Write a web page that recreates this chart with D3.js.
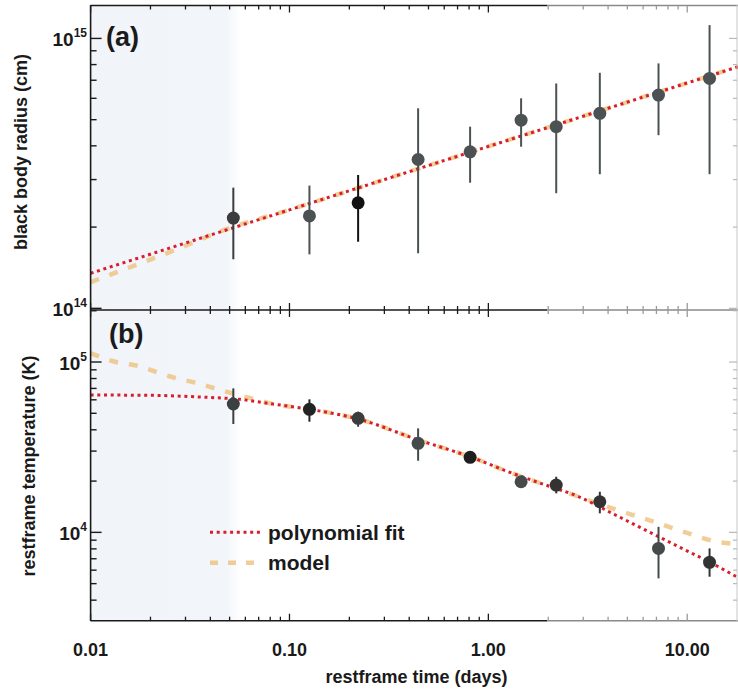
<!DOCTYPE html>
<html><head><meta charset="utf-8">
<script src="https://cdn.jsdelivr.net/npm/d3@7"></script>
<style>body{margin:0;background:#fff}svg{display:block}text{font-family:"Liberation Sans",Arial,sans-serif;font-weight:bold;fill:#1a1a1a}</style>
</head><body>
<script>
// ---- data ----
const times = [0.0522, 0.126, 0.2214, 0.4434, 0.8095, 1.461, 2.194, 3.635, 7.171, 12.95];
const radius = [2.16e14, 2.20e14, 2.46e14, 3.56e14, 3.80e14, 4.98e14, 4.71e14, 5.28e14, 6.17e14, 7.11e14];
const radiusLo = [1.52e14, 1.585e14, 1.765e14, 1.60e14, 2.92e14, 3.97e14, 2.67e14, 3.14e14, 4.38e14, 3.14e14];
const radiusHi = [2.80e14, 2.85e14, 3.12e14, 5.51e14, 4.71e14, 6.0e14, 6.81e14, 7.46e14, 8.08e14, 1.12e15];
const temp = [56700, 52760, 46700, 33310, 27570, 19820, 18960, 15120, 8054, 6670];
const tempLo = [43250, 44620, 41690, 26330, 25970, 19300, 16950, 12930, 5370, 5490];
const tempHi = [70050, 60400, 51070, 40800, 29100, 20400, 21210, 17310, 10780, 8055];

const fitRT = [0.01, 0.03, 0.1, 0.3, 1, 3, 10, 18];
const fitR = [1.349e14, 1.746e14, 2.317e14, 3.0e14, 3.98e14, 5.15e14, 6.84e14, 7.85e14];
const modelRT = [0.01, 0.017, 0.028, 0.045, 0.1, 0.3, 1, 3, 10, 18];
const modelR = [1.25e14, 1.45e14, 1.67e14, 1.93e14, 2.317e14, 3.0e14, 3.98e14, 5.15e14, 6.84e14, 7.85e14];

const fitTT = [0.01, 0.0199, 0.0354, 0.0562, 0.0826, 0.1261, 0.2221, 0.4462, 0.8101, 1.321, 1.944, 2.855, 4.196, 6.17, 9.07, 13.32, 17.72];
const fitT = [64000, 63750, 62300, 60390, 56670, 52770, 46270, 34830, 27790, 22210, 18960, 16180, 12930, 10310, 8230, 6577, 5484];
const modelTT = [0.01, 0.01326, 0.01735, 0.02186, 0.02704, 0.0347, 0.04372, 0.0631, 0.0826, 0.1261, 0.2221, 0.4462, 0.8101, 1.321, 1.944, 2.855, 4.196, 6.41, 9.60, 14.11, 17.72];
const modelT = [112900, 100400, 94740, 86540, 80220, 74990, 69150, 61470, 56670, 52770, 46270, 34830, 27790, 22210, 18960, 16180, 13830, 11810, 10080, 8808, 8537];

const xTickLabels = ["0.01", "0.10", "1.00", "10.00"];
const xTickValues = [0.01, 0.1, 1, 10];
const topTickValues = [1e14, 1e15];
const topTickExp = ["14", "15"];
const botTickValues = [1e4, 1e5];
const botTickExp = ["4", "5"];
const shadeEnd = 0.0545;

// ---- styles (not data) ----
const topColors = ["#393d3e","#4c5253","#121212","#4c5253","#4c5253","#4c5253","#4c5253","#4c5253","#4c5253","#4c5253"];
const botColors = ["#3b4142","#232323","#3a3d3e","#454a4b","#1e1e1e","#454a4b","#333","#333","#454a4b","#333"];

const W = 738, H = 694;
const L = 90.6, R = 738;
const svg = d3.select("body").append("svg").attr("width", W).attr("height", H);

const x = d3.scaleLog().domain([0.01, 18]).range([L, R]);
const yT = d3.scaleLog().domain([0.986e14, 1.33e15]).range([310, 5]);
const yB = d3.scaleLog().domain([3030, 2.02e5]).range([620.7, 310]);

// shaded region with soft right edge
const defs = svg.append("defs");
const g = defs.append("linearGradient").attr("id", "sh").attr("x1", 0).attr("x2", 1);
g.append("stop").attr("offset", "0").attr("stop-color", "#f1f4f8");
g.append("stop").attr("offset", "0.9").attr("stop-color", "#f2f5f9");
g.append("stop").attr("offset", "1").attr("stop-color", "#ffffff");
svg.append("rect").attr("x", x(0.01)).attr("y", 5).attr("width", x(shadeEnd) - x(0.01) + 4)
  .attr("height", 615.7).attr("fill", "url(#sh)");

function panel(yScale, fT, fV, mT, mV, vals, lo, hi, colors) {
  const line = d3.line().x(d => x(d[0])).y(d => yScale(d[1])).curve(d3.curveMonotoneX);
  svg.append("path").attr("d", line(d3.zip(mT, mV))).attr("fill", "none")
    .attr("stroke", "#eec27e").attr("stroke-width", 4.5).attr("stroke-dasharray", "9,11").attr("opacity", 0.8);
  svg.append("path").attr("d", line(d3.zip(fT, fV))).attr("fill", "none")
    .attr("stroke", "#d81e2c").attr("stroke-width", 3).attr("stroke-dasharray", "3,3.7");
  const gp = svg.append("g");
  gp.selectAll("line").data(times).join("line")
    .attr("x1", d => x(d)).attr("x2", d => x(d))
    .attr("y1", (d, i) => yScale(lo[i])).attr("y2", (d, i) => yScale(hi[i]))
    .attr("stroke", (d, i) => colors[i]).attr("stroke-width", 2);
  gp.selectAll("circle").data(times).join("circle")
    .attr("cx", d => x(d)).attr("cy", (d, i) => yScale(vals[i])).attr("r", 6.5)
    .attr("fill", (d, i) => colors[i]);
}
panel(yT, fitRT, fitR, modelRT, modelR, radius, radiusLo, radiusHi, topColors);
panel(yB, fitTT, fitT, modelTT, modelT, temp, tempLo, tempHi, botColors);

// frame lines (dark to ~547, grey beyond, as in scan)
const split = 547;
function hline(y) {
  svg.append("line").attr("x1", L).attr("x2", split).attr("y1", y).attr("y2", y).attr("stroke", "#1a1a1a").attr("stroke-width", 1.6);
  svg.append("line").attr("x1", split).attr("x2", R).attr("y1", y).attr("y2", y).attr("stroke", "#8a8a8a").attr("stroke-width", 1.4);
}
hline(5.5); hline(310); hline(620.7);
svg.append("line").attr("x1", L).attr("x2", L).attr("y1", 5).attr("y2", 621).attr("stroke", "#1a1a1a").attr("stroke-width", 1.6);
svg.append("line").attr("x1", 737).attr("x2", 737).attr("y1", 5).attr("y2", 621).attr("stroke", "#c8c8c8").attr("stroke-width", 1);

// x ticks (inward) on the horizontal frame lines
const xMinor = x.ticks().filter(v => v >= 0.01 && v <= 18);
function xTicks(y, dir) {
  svg.append("g").selectAll("line").data(xMinor).join("line")
    .attr("x1", d => x(d)).attr("x2", d => x(d))
    .attr("y1", y).attr("y2", d => y + dir * (xTickValues.includes(d) ? 7 : 4))
    .attr("stroke", d => x(d) > split ? "#9a9a9a" : "#1a1a1a").attr("stroke-width", 1.3);
}
xTicks(5.5, 1); xTicks(310, -1); xTicks(310, 1); xTicks(620.7, -1);

// y ticks (inward) left, faint on right
function yTicks(scale, majors) {
  const tv = scale.ticks().filter(v => scale(v) >= scale.range()[1] - 0.5 && scale(v) <= scale.range()[0] + 0.5);
  svg.append("g").selectAll("line").data(tv).join("line")
    .attr("x1", L).attr("x2", d => L + (majors.includes(d) ? 11 : 6))
    .attr("y1", d => scale(d)).attr("y2", d => scale(d))
    .attr("stroke", "#1a1a1a").attr("stroke-width", 1.4);
  svg.append("g").selectAll("line").data(tv).join("line")
    .attr("x1", 737).attr("x2", d => 737 - (majors.includes(d) ? 8 : 4))
    .attr("y1", d => scale(d)).attr("y2", d => scale(d))
    .attr("stroke", "#b8b8b8").attr("stroke-width", 1.2);
}
yTicks(yT, topTickValues); yTicks(yB, botTickValues);

// y tick labels 10^n
function yLabels(scale, vals, exps) {
  vals.forEach((v, i) => {
    const t = svg.append("text").attr("x", 87).attr("y", scale(v) + 8).attr("text-anchor", "end").style("font-size", "19px");
    t.append("tspan").text("10");
    t.append("tspan").attr("dy", -9).style("font-size", "12px").text(exps[i]);
  });
}
yLabels(yT, topTickValues, topTickExp);
yLabels(yB, botTickValues, botTickExp);

// x tick labels
svg.append("g").selectAll("text").data(xTickValues).join("text")
  .attr("x", d => x(d)).attr("y", 656).attr("text-anchor", "middle").style("font-size", "18px")
  .text((d, i) => xTickLabels[i]);

// axis titles
svg.append("text").attr("x", 416.5).attr("y", 683).attr("text-anchor", "middle").style("font-size", "18px").text("restframe time (days)");
svg.append("text").attr("transform", "translate(26.5,152) rotate(-90)").attr("text-anchor", "middle").style("font-size", "18px").text("black body radius (cm)");
svg.append("text").attr("transform", "translate(35,466) rotate(-90)").attr("text-anchor", "middle").style("font-size", "18px").text("restframe temperature (K)");

// panel labels
svg.append("text").attr("x", 106).attr("y", 46).style("font-size", "27px").text("(a)");
svg.append("text").attr("x", 109).attr("y", 343).style("font-size", "27px").text("(b)");

// legend
const lg = svg.append("g");
lg.append("line").attr("x1", 210).attr("x2", 262).attr("y1", 532.3).attr("y2", 532.3)
  .attr("stroke", "#d81e2c").attr("stroke-width", 3).attr("stroke-dasharray", "3,3.7");
lg.append("text").attr("x", 268).attr("y", 539.5).style("font-size", "21px").text("polynomial fit");
lg.append("line").attr("x1", 210).attr("x2", 262).attr("y1", 562.7).attr("y2", 562.7)
  .attr("stroke", "#eec27e").attr("stroke-width", 4.5).attr("stroke-dasharray", "8,10").attr("opacity", 0.8);
lg.append("text").attr("x", 268).attr("y", 570).style("font-size", "21px").text("model");
</script>
</body></html>
